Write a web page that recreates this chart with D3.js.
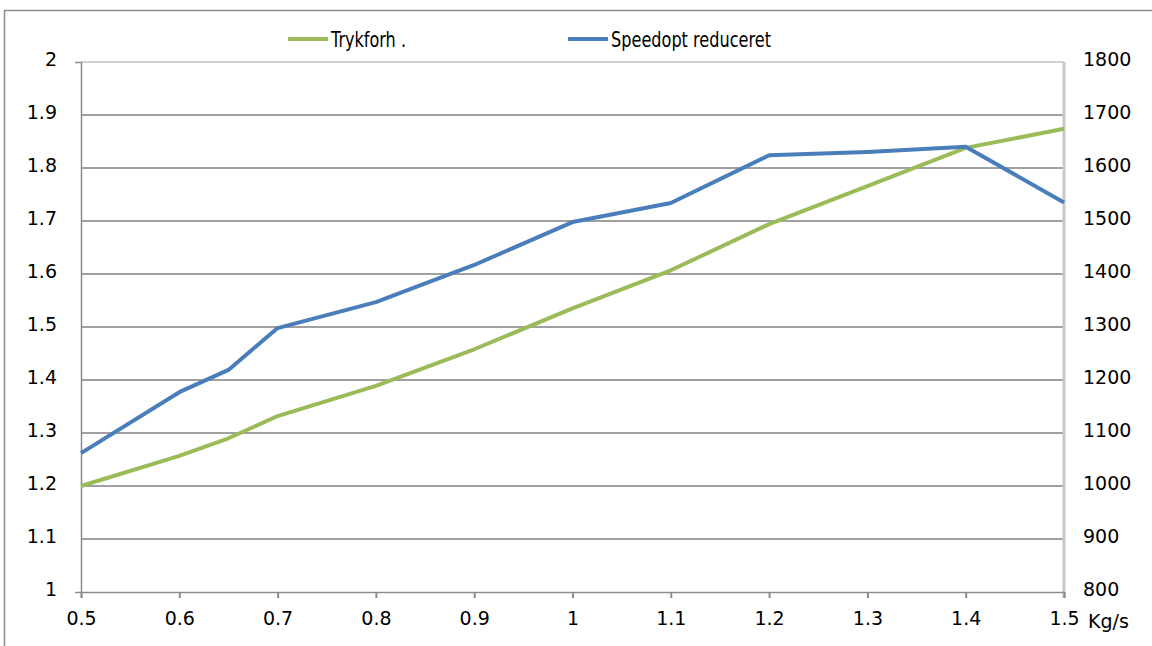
<!DOCTYPE html>
<html lang="da">
<head>
<meta charset="UTF-8">
<title>Trykforh. / Speed opt reduceret</title>
<script src="https://cdn.jsdelivr.net/npm/d3@7"></script>
<style>
	body { margin: 0; background: #fff; font-family: "DejaVu Sans", sans-serif; }
	.tick text { font-size: 19px; fill: #000; }
	.legend text { font-size: 22px; fill: #000; }
</style>
</head>
<body>
<script>
// data
var kgs   = [0.5, 0.6, 0.65, 0.7, 0.8, 0.9, 1.0, 1.1, 1.2, 1.3, 1.4, 1.5];
var tryk  = [1.20, 1.257, 1.29, 1.332, 1.389, 1.458, 1.535, 1.607, 1.694, 1.766, 1.838, 1.874];
var speed = [1062, 1177, 1219, 1298, 1347, 1417, 1498, 1534, 1624, 1630, 1640, 1535];

var xTicks = [0.5, 0.6, 0.7, 0.8, 0.9, 1, 1.1, 1.2, 1.3, 1.4, 1.5];
var leftTicks = [1, 1.1, 1.2, 1.3, 1.4, 1.5, 1.6, 1.7, 1.8, 1.9, 2];
var rightTicks = [800, 900, 1000, 1100, 1200, 1300, 1400, 1500, 1600, 1700, 1800];
var names = ['Trykforh .', 'Speedopt reduceret'];
var colors = ['#9bbb59', '#4a7ebb'];

var W = 1152, H = 646;
var plot = {left: 81, right: 1064, top: 62, bottom: 592};

var svg = d3.select('body').append('svg')
	.attr('width', W).attr('height', H);

// outer chart border (bottom and right edges fall outside the picture)
svg.append('rect')
	.attr('x', 4.5).attr('y', 10.5)
	.attr('width', W + 10).attr('height', H)
	.attr('fill', 'none').attr('stroke', '#8c8c8c').attr('stroke-width', 1.5);

var x = d3.scaleLinear().domain([0.5, 1.5]).range([plot.left, plot.right]);
var yL = d3.scaleLinear().domain([1, 2]).range([plot.bottom, plot.top]);
var yR = d3.scaleLinear().domain([800, 1800]).range([plot.bottom, plot.top]);

// horizontal gridlines
svg.append('g').selectAll('line')
	.data(leftTicks.slice(1))
	.enter().append('line')
	.attr('x1', plot.left).attr('x2', plot.right)
	.attr('y1', d => yL(d)).attr('y2', d => yL(d))
	.attr('stroke', (d, i) => i === leftTicks.length - 2 ? '#d0d0d0' : '#a0a0a0')
	.attr('stroke-width', 2);

// right axis line
svg.append('line')
	.attr('x1', plot.right).attr('x2', plot.right)
	.attr('y1', plot.top).attr('y2', plot.bottom + 6)
	.attr('stroke', '#c8c8c8').attr('stroke-width', 3);

var fmt = d => String(+(+d).toFixed(1));

// left axis
var gL = svg.append('g')
	.attr('transform', 'translate(' + plot.left + ',0)')
	.call(d3.axisLeft(yL).tickValues(leftTicks).tickSize(6).tickPadding(18).tickFormat(fmt));

// right axis
var gR = svg.append('g')
	.attr('transform', 'translate(' + plot.right + ',0)')
	.call(d3.axisRight(yR).tickValues(rightTicks).tickSize(0).tickPadding(19).tickFormat(d => String(d)));

// bottom axis
var gB = svg.append('g')
	.attr('transform', 'translate(0,' + plot.bottom + ')')
	.call(d3.axisBottom(x).tickValues(xTicks).tickSize(6).tickPadding(14).tickFormat(fmt));

[gL, gR, gB].forEach(g => {
	g.select('.domain').attr('stroke', '#8c8c8c').attr('stroke-width', 1.5);
	g.selectAll('.tick line').attr('stroke', '#8c8c8c').attr('stroke-width', 2);
	g.selectAll('.tick text').attr('font-family', '"DejaVu Sans", sans-serif').attr('font-size', 19);
});
gR.select('.domain').remove();
gL.selectAll('.tick line').remove();
gL.selectAll('.tick text').attr('dy', '0.2em');
gR.selectAll('.tick text').attr('dy', '0.2em');

svg.append('text')
	.attr('x', 1088).attr('y', 628)
	.attr('font-size', 19).attr('fill', '#000')
	.text('Kg/s');

// lines
var lineL = d3.line().x((d, i) => x(kgs[i])).y(d => yL(d));
var lineR = d3.line().x((d, i) => x(kgs[i])).y(d => yR(d));

svg.append('path')
	.datum(tryk)
	.attr('d', lineL)
	.attr('fill', 'none').attr('stroke', colors[0])
	.attr('stroke-width', 4).attr('stroke-linejoin', 'round');

svg.append('path')
	.datum(speed)
	.attr('d', lineR)
	.attr('fill', 'none').attr('stroke', colors[1])
	.attr('stroke-width', 4).attr('stroke-linejoin', 'round');

// legend
var legendX = [288, 568];
var legendTextW = [75, 160];
var legend = svg.selectAll('.legend')
	.data(names)
	.enter().append('g')
	.attr('class', 'legend')
	.attr('transform', (d, i) => 'translate(' + legendX[i] + ',39)');

legend.append('line')
	.attr('x1', 0).attr('x2', 40)
	.attr('stroke', (d, i) => colors[i]).attr('stroke-width', 4);

legend.append('text')
	.attr('x', 43).attr('y', 8)
	.attr('textLength', (d, i) => legendTextW[i])
	.attr('lengthAdjust', 'spacingAndGlyphs')
	.text(d => d);
</script>
</body>
</html>
